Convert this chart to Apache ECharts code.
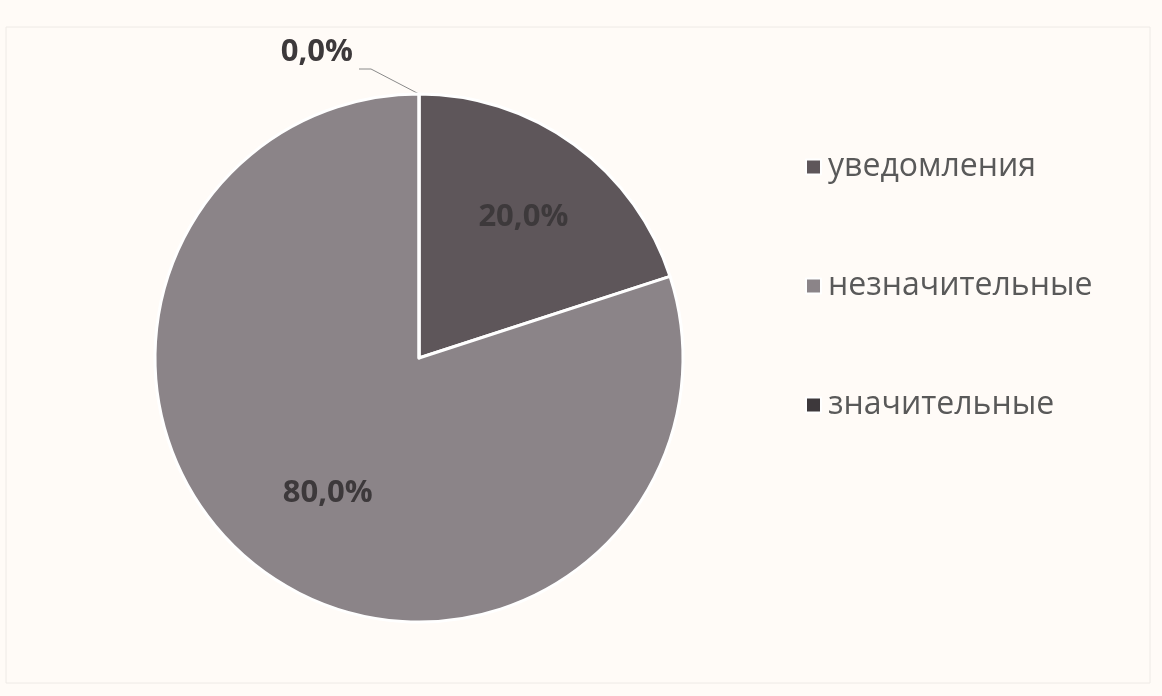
<!DOCTYPE html>
<html>
<head>
<meta charset="utf-8">
<script src="https://cdn.jsdelivr.net/npm/echarts@6/dist/echarts.min.js"></script>
<style>
  html, body { margin: 0; padding: 0; background: #fffbf7; }
  #chart { width: 1162px; height: 696px; }
</style>
</head>
<body>
<div id="chart"></div>
<script>
// Categories and their shares (percent)
const categories = ['уведомления', 'незначительные', 'значительные'];
const shares = [20.0, 80.0, 0.0];
const sliceColors = ['#5e565a', '#8b8488', '#3d383b'];

// Per-slice label placement tweaks
const labelOffsets = [[25, -32], [-12, 26], [0, 0]];

const chart = echarts.init(document.getElementById('chart'), null, { renderer: 'canvas' });

const data = categories.map((name, i) => {
  const item = {
    name: name,
    value: shares[i],
    itemStyle: { color: sliceColors[i] }
  };
  if (shares[i] === 0) {
    item.label = { position: 'outside' };
    item.labelLine = { show: true };
  } else {
    item.label = { position: 'inside', offset: labelOffsets[i] };
  }
  return item;
});

chart.setOption({
  backgroundColor: '#fffbf7',
  animation: false,
  graphic: [{
    type: 'rect',
    shape: { x: 6, y: 27, width: 1144, height: 656 },
    style: { fill: 'none', stroke: '#eeeae6', lineWidth: 1 },
    silent: true
  }],
  legend: {
    orient: 'vertical',
    left: 800,
    top: 143,
    itemWidth: 15,
    itemHeight: 15,
    itemGap: 81,
    icon: 'rect',
    data: categories,
    textStyle: {
      fontFamily: 'Open Sans',
      fontSize: 32,
      color: '#595959',
      lineHeight: 38,
      padding: [0, 0, 0, 2]
    }
  },
  series: [{
    type: 'pie',
    center: [419, 358],
    radius: 264,
    startAngle: 90,
    clockwise: true,
    avoidLabelOverlap: false,
    stillShowZeroSum: true,
    itemStyle: { borderColor: '#ffffff', borderWidth: 3 },
    label: {
      show: true,
      formatter: (p) => p.value.toFixed(1).replace('.', ',') + '%',
      fontFamily: 'Open Sans',
      fontWeight: 'bold',
      fontSize: 31,
      color: '#3d393b'
    },
    labelLine: {
      show: true,
      length: 26,
      length2: 24,
      lineStyle: { color: '#8a8a8a', width: 1 }
    },
    // The zero-share label sits up and to the left, joined by a slanted leader
    labelLayout: (params) => {
      if (params.dataIndex !== 2 || !params.labelLinePoints) return {};
      const p0 = params.labelLinePoints[0];
      return {
        x: p0[0] - 66,
        y: p0[1] - 42,
        align: 'right',
        verticalAlign: 'middle',
        labelLinePoints: [
          [p0[0], p0[1]],
          [p0[0] - 48, p0[1] - 25],
          [p0[0] - 60, p0[1] - 25]
        ]
      };
    },
    emphasis: { disabled: true },
    data: data
  }]
});
</script>
</body>
</html>
